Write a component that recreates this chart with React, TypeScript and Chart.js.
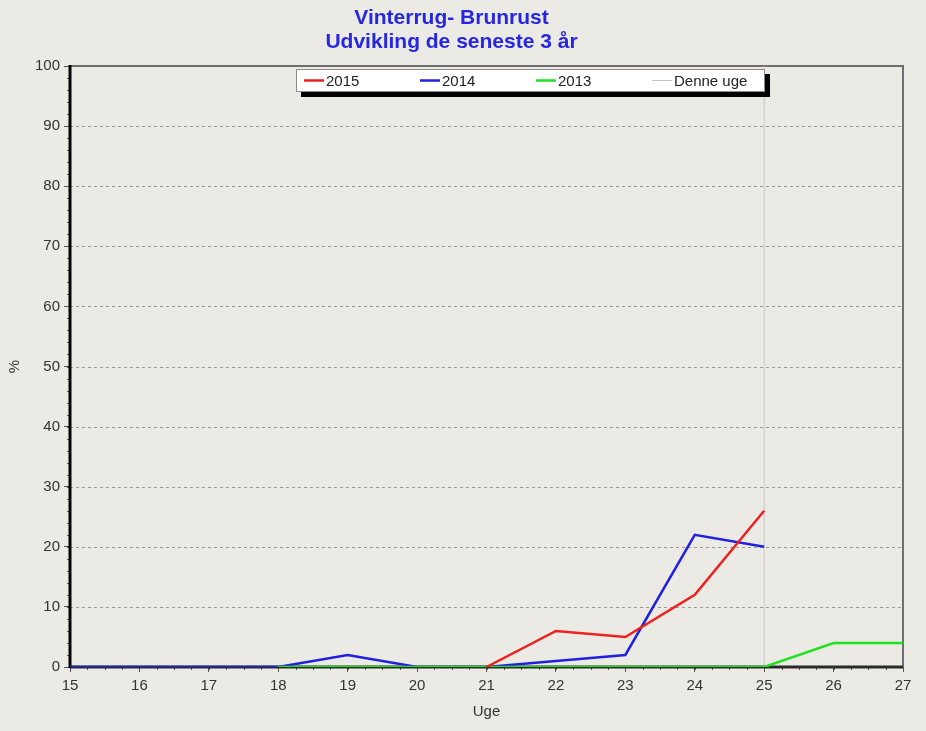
import React, { useEffect, useRef } from 'react';
import { Chart, registerables } from 'chart.js';

Chart.register(...registerables);

const TITLE_LINES = ['Vinterrug- Brunrust', 'Udvikling de seneste 3 år'];
const X_TITLE = 'Uge';
const Y_TITLE = '%';

const WEEK_MIN = 15;
const WEEK_MAX = 27;
const CURRENT_WEEK = 25;
const CURRENT_WEEK_LABEL = 'Denne uge';

const WEEKS_2015 = [21, 22, 23, 24, 25];
const VALUES_2015 = [0, 6, 5, 12, 26];

const WEEKS_2014 = [15, 16, 17, 18, 19, 20, 21, 22, 23, 24, 25];
const VALUES_2014 = [0, 0, 0, 0, 2, 0, 0, 1, 2, 22, 20];

const WEEKS_2013 = [18, 19, 20, 21, 22, 23, 24, 25, 26, 27];
const VALUES_2013 = [0, 0, 0, 0, 0, 0, 0, 0, 4, 4];

const SERIES_LABELS = ['2015', '2014', '2013'];
const SERIES_COLORS = ['#ee2020', '#2020e0', '#22e022'];
const CURRENT_COLOR = '#c6c6c6';

const BG = '#ebeae4';
const FONT = "'Liberation Sans', Arial, sans-serif";

const toPoints = (xs: number[], ys: number[]) => xs.map((x, i) => ({ x, y: ys[i] }));

const framePlugin = {
  id: 'frame',
  beforeDatasetsDraw(chart: any) {
    const { ctx, chartArea } = chart;
    const y = chart.scales.y;
    const x = chart.scales.x;
    ctx.save();
    // dashed grid
    ctx.strokeStyle = '#999999';
    ctx.lineWidth = 1;
    ctx.setLineDash([3, 3]);
    y.ticks.forEach((t: any) => {
      if (t.value <= y.min || t.value >= y.max) return;
      const py = Math.round(y.getPixelForValue(t.value)) + 0.5;
      ctx.beginPath();
      ctx.moveTo(chartArea.left, py);
      ctx.lineTo(chartArea.right, py);
      ctx.stroke();
    });
    ctx.setLineDash([]);
    // minor ticks x
    ctx.strokeStyle = '#555555';
    ctx.lineWidth = 1;
    for (let v = WEEK_MIN; v <= WEEK_MAX + 1e-6; v += 0.25) {
      const px = Math.round(x.getPixelForValue(v)) + 0.5;
      ctx.beginPath();
      ctx.moveTo(px, chartArea.bottom);
      ctx.lineTo(px, chartArea.bottom + 3);
      ctx.stroke();
    }
    for (let v = 0; v <= 100; v += 2) {
      const py = Math.round(y.getPixelForValue(v)) + 0.5;
      ctx.beginPath();
      ctx.moveTo(chartArea.left - 3, py);
      ctx.lineTo(chartArea.left, py);
      ctx.stroke();
    }
    // frame
    ctx.strokeStyle = '#6e6e6e';
    ctx.lineWidth = 2;
    ctx.beginPath();
    ctx.moveTo(chartArea.left, chartArea.top);
    ctx.lineTo(chartArea.right, chartArea.top);
    ctx.lineTo(chartArea.right, chartArea.bottom);
    ctx.stroke();
    ctx.strokeStyle = '#2a2a2a';
    ctx.lineWidth = 3;
    ctx.beginPath();
    ctx.moveTo(chartArea.left, chartArea.bottom);
    ctx.lineTo(chartArea.right, chartArea.bottom);
    ctx.stroke();
    ctx.strokeStyle = '#000000';
    ctx.beginPath();
    ctx.moveTo(chartArea.left, chartArea.top - 1);
    ctx.lineTo(chartArea.left, chartArea.bottom + 1);
    ctx.stroke();
    ctx.restore();
  },
};

const legendPlugin = {
  id: 'boxLegend',
  afterDatasetsDraw(chart: any) {
    const { ctx, chartArea } = chart;
    const left = chartArea.left + 226;
    const top = chartArea.top + 3;
    const w = 469;
    const h = 23;
    ctx.save();
    ctx.fillStyle = '#000000';
    ctx.fillRect(left + 5, top + 5, w, h);
    ctx.fillStyle = '#ffffff';
    ctx.fillRect(left, top, w, h);
    ctx.strokeStyle = '#8a8a8a';
    ctx.lineWidth = 1;
    ctx.strokeRect(left + 0.5, top + 0.5, w - 1, h - 1);
    const items = [
      ...SERIES_LABELS.map((l, i) => ({ label: l, color: SERIES_COLORS[i], width: 2.5 })),
      { label: CURRENT_WEEK_LABEL, color: CURRENT_COLOR, width: 1 },
    ];
    ctx.font = `15px ${FONT}`;
    ctx.textBaseline = 'middle';
    ctx.textAlign = 'left';
    items.forEach((it, i) => {
      const x0 = left + 8 + i * 116;
      const cy = top + h / 2;
      ctx.strokeStyle = it.color;
      ctx.lineWidth = it.width;
      ctx.beginPath();
      ctx.moveTo(x0, cy);
      ctx.lineTo(x0 + 20, cy);
      ctx.stroke();
      ctx.fillStyle = '#222222';
      ctx.fillText(it.label, x0 + 22, cy + 1);
    });
    ctx.restore();
  },
};

export default function App() {
  const ref = useRef<HTMLCanvasElement | null>(null);
  useEffect(() => {
    document.body.style.margin = '0';
    document.body.style.background = BG;
    const canvas = ref.current;
    if (!canvas) return;
    const datasets: any[] = [
      {
        label: SERIES_LABELS[0],
        data: toPoints(WEEKS_2015, VALUES_2015),
        borderColor: SERIES_COLORS[0],
      },
      {
        label: SERIES_LABELS[2],
        data: toPoints(WEEKS_2013, VALUES_2013),
        borderColor: SERIES_COLORS[2],
      },
      {
        label: SERIES_LABELS[1],
        data: toPoints(WEEKS_2014, VALUES_2014),
        borderColor: SERIES_COLORS[1],
      },
      {
        label: CURRENT_WEEK_LABEL,
        data: [
          { x: CURRENT_WEEK, y: 0 },
          { x: CURRENT_WEEK, y: 100 },
        ],
        borderColor: CURRENT_COLOR,
        borderWidth: 1,
      },
    ].map((d) => ({
      borderWidth: 2.5,
      pointRadius: 0,
      pointHoverRadius: 0,
      tension: 0,
      fill: false,
      ...d,
    }));
    const chart = new Chart(canvas, {
      type: 'line',
      data: { datasets },
      options: {
        animation: false,
        responsive: false,
        maintainAspectRatio: false,
        events: [],
        layout: { padding: { left: 0, right: 23, top: 0, bottom: 0 } },
        plugins: {
          legend: { display: false },
          tooltip: { enabled: false },
          title: {
            display: true,
            text: TITLE_LINES,
            color: '#2626e4',
            font: { family: "'Liberation Sans Narrow', 'Liberation Sans', Arial, sans-serif", size: 21, weight: 'bold', lineHeight: 24 / 21 },
            padding: { top: 6, bottom: 12 },
          },
        },
        scales: {
          x: {
            type: 'linear',
            min: WEEK_MIN,
            max: WEEK_MAX,
            afterFit: (s: any) => {
              s.height = 64;
            },
            ticks: {
              stepSize: 1,
              color: '#333333',
              font: { family: FONT, size: 15 },
              padding: 5,
              maxRotation: 0,
              autoSkip: false,
            },
            grid: { display: true, drawOnChartArea: false, drawTicks: true, tickLength: 5, tickColor: '#555555' },
            border: { display: false },
            title: {
              display: true,
              text: X_TITLE,
              color: '#333333',
              font: { family: FONT, size: 15 },
              padding: { top: 0, bottom: 10 },
            },
          },
          y: {
            type: 'linear',
            min: 0,
            max: 100,
            afterFit: (s: any) => {
              s.width = 70;
            },
            ticks: {
              stepSize: 10,
              color: '#333333',
              font: { family: FONT, size: 15 },
              padding: 4,
            },
            grid: { display: true, drawOnChartArea: false, drawTicks: true, tickLength: 6, tickColor: '#555555' },
            border: { display: false },
            title: {
              display: true,
              text: Y_TITLE,
              color: '#333333',
              font: { family: FONT, size: 15 },
              padding: { top: 6, bottom: 0 },
            },
          },
        },
      },
      plugins: [framePlugin, legendPlugin],
    } as any);
    return () => chart.destroy();
  }, []);
  return (
    <div style={{ width: 926, height: 731, background: BG }}>
      <canvas ref={ref} width={926} height={731} style={{ display: 'block' }} />
    </div>
  );
}
